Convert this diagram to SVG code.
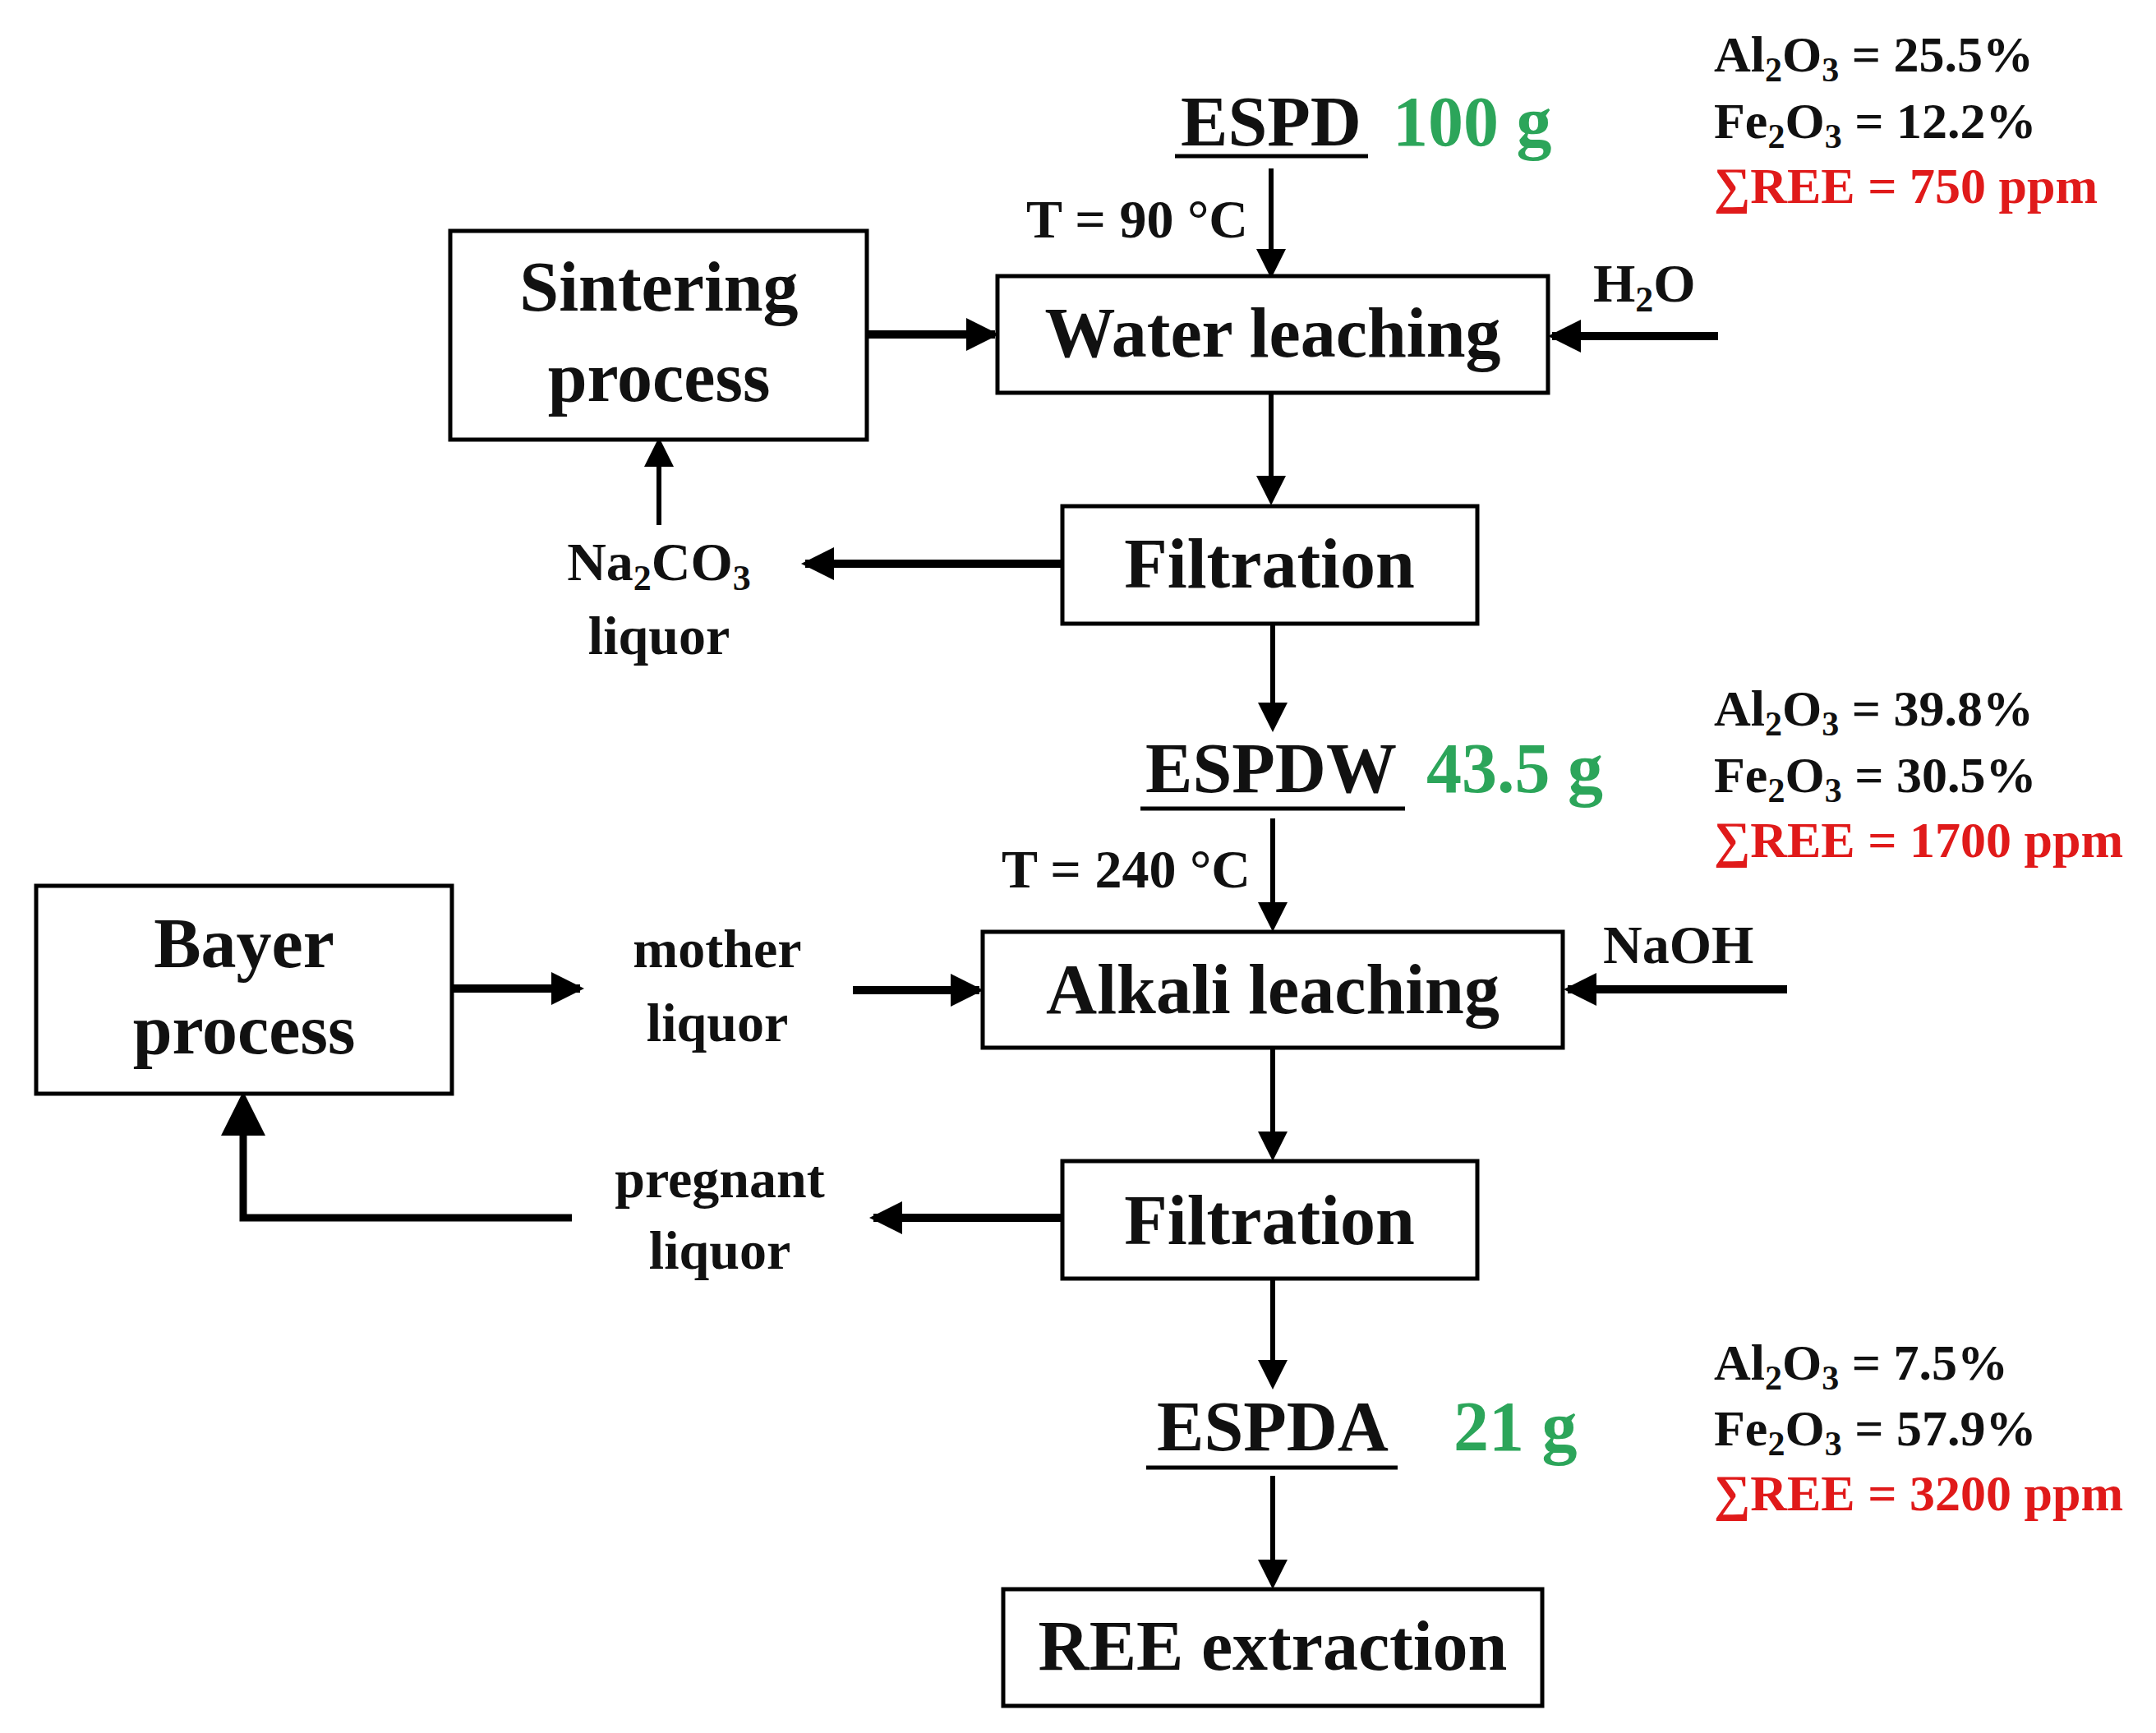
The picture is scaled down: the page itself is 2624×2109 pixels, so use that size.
<svg xmlns="http://www.w3.org/2000/svg" width="2624" height="2109" viewBox="0 0 2624 2109">
<style>
text{font-family:"Liberation Serif","Times New Roman",serif;font-weight:bold;fill:#111}
.box{fill:#fff;stroke:#000;stroke-width:5}
.bt{font-size:86px;text-anchor:middle}
.lt{font-size:66px;text-anchor:middle}
.big{font-size:86px}
.g{fill:#2ca55a}
.c{font-size:62px}
.r{fill:#e01a1a}
.ln{stroke:#000;stroke-width:6;fill:none}
.thk{stroke:#000;stroke-width:10;fill:none}
</style>
<defs>
<marker id="a" markerWidth="6" markerHeight="6" refX="5" refY="3" orient="auto" markerUnits="strokeWidth"><path d="M0,0 L6,3 L0,6 Z" fill="#000"/></marker>
<marker id="b" markerWidth="4" markerHeight="4" refX="3.5" refY="2" orient="auto" markerUnits="strokeWidth"><path d="M0,0 L4,2 L0,4 Z" fill="#000"/></marker>
</defs>
<g id="connectors">
<line class="ln" x1="1547" y1="205" x2="1547" y2="333" marker-end="url(#a)"/>
<line class="thk" x1="2091" y1="409" x2="1889" y2="409" marker-end="url(#b)"/>
<line class="thk" x1="1055" y1="407" x2="1211" y2="407" marker-end="url(#b)"/>
<line class="ln" x1="1547" y1="478" x2="1547" y2="609" marker-end="url(#a)"/>
<line class="thk" x1="1293" y1="686" x2="980" y2="686" marker-end="url(#b)"/>
<line class="ln" x1="802" y1="639" x2="802" y2="538" marker-end="url(#a)"/>
<line class="ln" x1="1549" y1="759" x2="1549" y2="885" marker-end="url(#a)"/>
<line class="ln" x1="1549" y1="996" x2="1549" y2="1128" marker-end="url(#a)"/>
<line class="thk" x1="550" y1="1203" x2="706" y2="1203" marker-end="url(#b)"/>
<line class="thk" x1="1038" y1="1205" x2="1192" y2="1205" marker-end="url(#b)"/>
<line class="thk" x1="2175" y1="1204" x2="1908" y2="1204" marker-end="url(#b)"/>
<line class="ln" x1="1549" y1="1275" x2="1549" y2="1407" marker-end="url(#a)"/>
<line class="thk" x1="1293" y1="1482" x2="1063" y2="1482" marker-end="url(#b)"/>
<polyline class="ln" points="696,1482 296,1482 296,1337" marker-end="url(#a)" style="stroke-width:9"/>
<line class="ln" x1="1549" y1="1556" x2="1549" y2="1685" marker-end="url(#a)"/>
<line class="ln" x1="1549" y1="1796" x2="1549" y2="1928" marker-end="url(#a)"/>
</g>
<g id="sintering"><rect class="box" x="548" y="281" width="507" height="254"/><text class="bt" x="802" y="378">Sintering</text><text class="bt" x="802" y="488">process</text></g>
<g id="water"><rect class="box" x="1214" y="336" width="670" height="142"/><text class="bt" x="1549" y="434">Water leaching</text></g>
<g id="filtration1"><rect class="box" x="1293" y="616" width="505" height="143"/><text class="bt" x="1545" y="715">Filtration</text></g>
<g id="bayer"><rect class="box" x="44" y="1078" width="506" height="253"/><text class="bt" x="297" y="1177">Bayer</text><text class="bt" x="297" y="1282">process</text></g>
<g id="alkali"><rect class="box" x="1196" y="1134" width="706" height="141"/><text class="bt" x="1549" y="1233">Alkali leaching</text></g>
<g id="filtration2"><rect class="box" x="1293" y="1413" width="505" height="143"/><text class="bt" x="1545" y="1514">Filtration</text></g>
<g id="ree"><rect class="box" x="1221" y="1934" width="656" height="142"/><text class="bt" x="1549" y="2032">REE extraction</text></g>
<g id="espd"><text class="big" x="1547" y="177" text-anchor="middle">ESPD</text><line x1="1430" y1="190" x2="1665" y2="190" stroke="#000" stroke-width="5"/><text class="big g" x="1695" y="177">100 g</text></g>
<g id="espdw"><text class="big" x="1547" y="964" text-anchor="middle">ESPDW</text><line x1="1388" y1="984" x2="1710" y2="984" stroke="#000" stroke-width="5"/><text class="big g" x="1736" y="964">43.5 g</text></g>
<g id="espda"><text class="big" x="1549" y="1765" text-anchor="middle">ESPDA</text><line x1="1395" y1="1786" x2="1701" y2="1786" stroke="#000" stroke-width="5"/><text class="big g" x="1769" y="1765">21 g</text></g>
<g id="labels">
<text class="lt" x="1519" y="289" text-anchor="end" style="text-anchor:end">T = 90 °C</text>
<text class="lt" x="1522" y="1080" style="text-anchor:end">T = 240 °C</text>
<text class="lt" x="1939" y="367" style="text-anchor:start">H<tspan font-size="44" dy="12">2</tspan><tspan dy="-12">O</tspan></text>
<text class="lt" x="1951" y="1172" style="text-anchor:start">NaOH</text>
<text class="lt" x="802" y="706">Na<tspan font-size="44" dy="12">2</tspan><tspan dy="-12">CO</tspan><tspan font-size="44" dy="12">3</tspan></text>
<text class="lt" x="802" y="796">liquor</text>
<text class="lt" x="873" y="1177">mother</text>
<text class="lt" x="873" y="1267">liquor</text>
<text class="lt" x="876" y="1457">pregnant</text>
<text class="lt" x="876" y="1544">liquor</text>
</g>
<g id="comp1" class="c">
<text class="c" x="2086" y="87">Al<tspan font-size="42" dy="12">2</tspan><tspan dy="-12">O</tspan><tspan font-size="42" dy="12">3</tspan><tspan dy="-12"> = 25.5%</tspan></text>
<text class="c" x="2086" y="168">Fe<tspan font-size="42" dy="12">2</tspan><tspan dy="-12">O</tspan><tspan font-size="42" dy="12">3</tspan><tspan dy="-12"> = 12.2%</tspan></text>
<text class="c r" x="2086" y="247">∑REE = 750 ppm</text>
</g>
<g id="comp2">
<text class="c" x="2086" y="883">Al<tspan font-size="42" dy="12">2</tspan><tspan dy="-12">O</tspan><tspan font-size="42" dy="12">3</tspan><tspan dy="-12"> = 39.8%</tspan></text>
<text class="c" x="2086" y="964">Fe<tspan font-size="42" dy="12">2</tspan><tspan dy="-12">O</tspan><tspan font-size="42" dy="12">3</tspan><tspan dy="-12"> = 30.5%</tspan></text>
<text class="c r" x="2086" y="1043">∑REE = 1700 ppm</text>
</g>
<g id="comp3">
<text class="c" x="2086" y="1679">Al<tspan font-size="42" dy="12">2</tspan><tspan dy="-12">O</tspan><tspan font-size="42" dy="12">3</tspan><tspan dy="-12"> = 7.5%</tspan></text>
<text class="c" x="2086" y="1759">Fe<tspan font-size="42" dy="12">2</tspan><tspan dy="-12">O</tspan><tspan font-size="42" dy="12">3</tspan><tspan dy="-12"> = 57.9%</tspan></text>
<text class="c r" x="2086" y="1838">∑REE = 3200 ppm</text>
</g>
</svg>
